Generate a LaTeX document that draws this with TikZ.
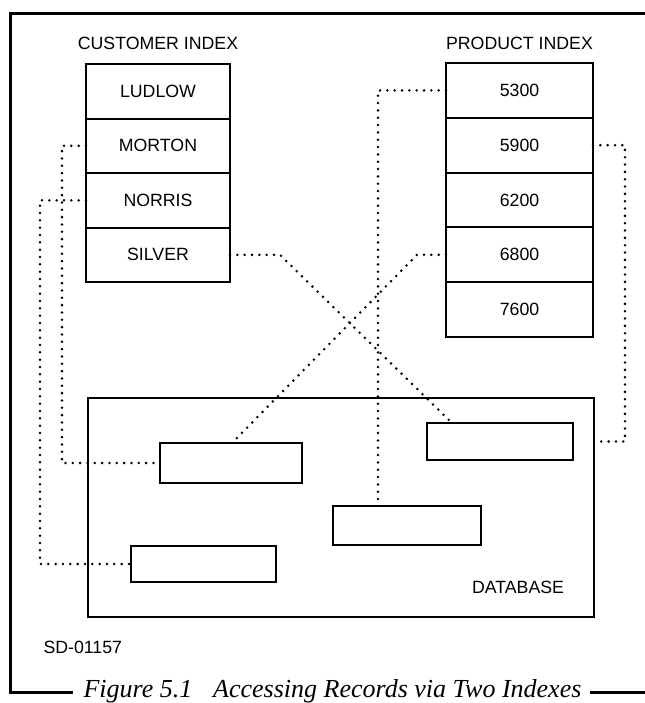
\documentclass[tikz,border=0pt]{standalone}
\usepackage{fontspec}
\setmainfont{Liberation Sans}
\newfontfamily\captionserif{Liberation Serif}
\usetikzlibrary{positioning}

\tikzset{every picture/.style={line width=0.75pt},
  lbl/.style={font=\fontsize{13.3}{16}\selectfont, inner sep=0pt},
  custrow/.style={lbl, draw, line width=1.5pt, minimum width=108pt, minimum height=40.9pt, outer sep=0pt},
  prodrow/.style={lbl, draw, line width=1.5pt, minimum width=110.25pt, minimum height=41.1pt, outer sep=0pt},
  record/.style={draw, line width=1.9pt, inner sep=0pt, outer sep=0pt},
  link/.style={line width=2.1pt, line cap=round, dash pattern={on 0pt off 5.5pt}},
  frame/.style={line width=2.25pt}
}

\begin{document}
\begin{tikzpicture}[x=0.75pt,y=0.75pt,yscale=-1,xscale=1]
		\useasboundingbox (0,0) rectangle (645,703);
		
		%Outer frame
		\draw [frame] (645,13) -- (10,13) -- (10,692) -- (73,692) ;
		\draw [frame] (590,692) -- (645,692) ;
		
		%Customer index
		\node [custrow] (ludlow) at (158,91.25) {LUDLOW};
		\node [custrow, below=0pt of ludlow] (morton) {MORTON};
		\node [custrow, below=0pt of morton] (norris) {NORRIS};
		\node [custrow, below=0pt of norris] (silver) {SILVER};
		
		%Product index
		\node [prodrow] (p5300) at (519.5,90.4) {5300};
		\node [prodrow, below=0pt of p5300] (p5900) {5900};
		\node [prodrow, below=0pt of p5900] (p6200) {6200};
		\node [prodrow, below=0pt of p6200] (p6800) {6800};
		\node [prodrow, below=0pt of p6800] (p7600) {7600};
		
		%Database and records
		\node [draw, line width=1pt, inner sep=0pt, outer sep=0pt, minimum width=379.5pt, minimum height=164.25pt] (db) at (341,507.5) {};
		\node [record, minimum width=106.5pt, minimum height=30pt] (rec1) at (231,463) {};
		\node [record, minimum width=108.75pt, minimum height=27pt] (rec2) at (203.5,564) {};
		\node [record, minimum width=109.5pt, minimum height=27.75pt] (rec3) at (500,441.5) {};
		\node [record, minimum width=111pt, minimum height=29.25pt] (rec4) at (407,525.5) {};
		
		%Dotted links
		\draw [link] (morton.west) -- ++(-24,0) |- (rec1.west) ;
		\draw [link] (norris.west) -- ++(-46,0) |- (rec2.west) ;
		\draw [link] (silver.east) -- ++(50,0) -- (452,0 |- rec3.north) ;
		\draw [link] (p6800.west) -- ++(-29,0) -- (232,0 |- rec1.north) ;
		\draw [link] (p5300.west) -| (378,0 |- rec4.north) ;
		\draw [link] (p5900.east) -- ++(32,0) |- (db.east |- rec3) ;
		
		% Text Node
		\node [lbl] (custtitle) at (158,43) {CUSTOMER INDEX};
		% Text Node
		\node [lbl] (prodtitle) at (519.5,43) {PRODUCT INDEX};
		% Text Node
		\node [lbl] (dbtitle) at (518,587) {DATABASE};
		% Text Node
		\node [lbl, anchor=west] (figno) at (43,647) {SD-01157};
		% Text Node
		\node [anchor=base, inner sep=0pt, font=\captionserif\itshape\fontsize{19.5}{22}\selectfont] (caption) at (332.5,697) {Figure 5.1\hspace{0.8em}Accessing Records via Two Indexes};
	\end{tikzpicture}
\end{document}
